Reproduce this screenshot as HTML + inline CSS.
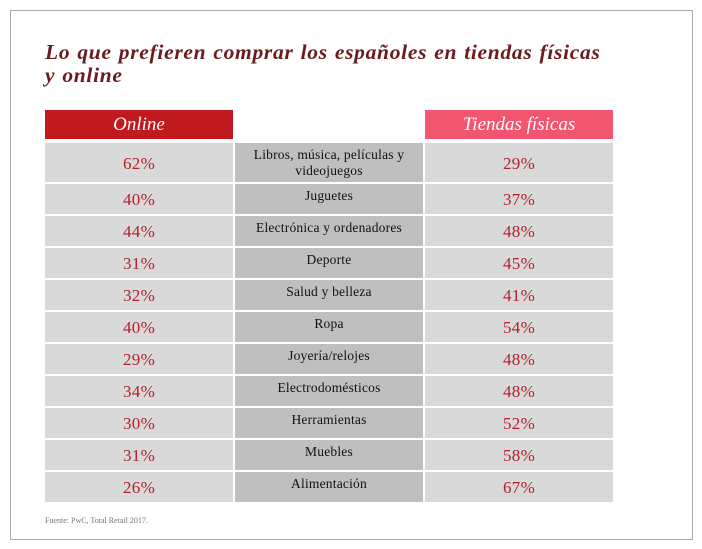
<!DOCTYPE html>
<html><head><meta charset="utf-8"><style>
body{margin:0;width:702px;height:549px;background:#fff;position:relative;overflow:hidden;font-family:"Liberation Serif",serif}
#frame{position:absolute;left:10px;top:10px;width:681px;height:528px;border:1px solid #aaa}
#title{position:absolute;left:45px;top:41px;font-size:21.5px;font-weight:bold;font-style:italic;color:#6a1b1f;line-height:23px;letter-spacing:0.7px;word-spacing:1px}
.h{position:absolute;top:110px;height:29px;width:188px;color:#fff;font-style:italic;font-size:19px;text-align:center;line-height:30px}
.c{position:absolute;width:188px;text-align:center;box-sizing:border-box}
.v{background:#d9d9d9;color:#b3202a;font-size:17px;letter-spacing:0.3px}
.m{background:#bfbfbf;color:#111;font-size:13.5px;line-height:16px;padding-top:4px;letter-spacing:0.2px}
#src{position:absolute;left:45px;top:516px;font-size:8px;color:#777}
</style></head><body>
<div id="frame"></div>
<div id="title">Lo que prefieren comprar los españoles en tiendas físicas<br>y online</div>
<div class="h" style="left:45px;background:#c0191e">Online</div>
<div class="h" style="left:425px;background:#f2556f">Tiendas físicas</div>
<div id="rows"></div>
<div id="src">Fuente: PwC, Total Retail 2017.</div>
<script>
const categories=["Libros, música, películas y videojuegos","Juguetes","Electrónica y ordenadores","Deporte","Salud y belleza","Ropa","Joyería/relojes","Electrodomésticos","Herramientas","Muebles","Alimentación"];
const onlineValues=[62,40,44,31,32,40,29,34,30,31,26];
const storeValues=[29,37,48,45,41,54,48,48,52,58,67];
const root=document.getElementById('rows');
let y=143;
categories.forEach((cat,i)=>{
  const h=i===0?39:30;
  const mk=(cls,x,txt,name)=>{
    const d=document.createElement('div');
    d.className='c '+cls;
    d.style.left=x+'px';d.style.top=y+'px';d.style.height=h+'px';
    if(cls==='v'){d.style.lineHeight=(h+2)+'px';}
    if(cls==='m'&&i===0){d.innerHTML='Libros, música, películas y<br>videojuegos';}else d.textContent=txt;
    
    
    root.appendChild(d);
  };
  mk('v',45,onlineValues[i]+'%','online-value');
  mk('m',235,cat,'category-label');
  mk('v',425,storeValues[i]+'%','store-value');
  y+=h+2;
});
</script>
</body></html>
